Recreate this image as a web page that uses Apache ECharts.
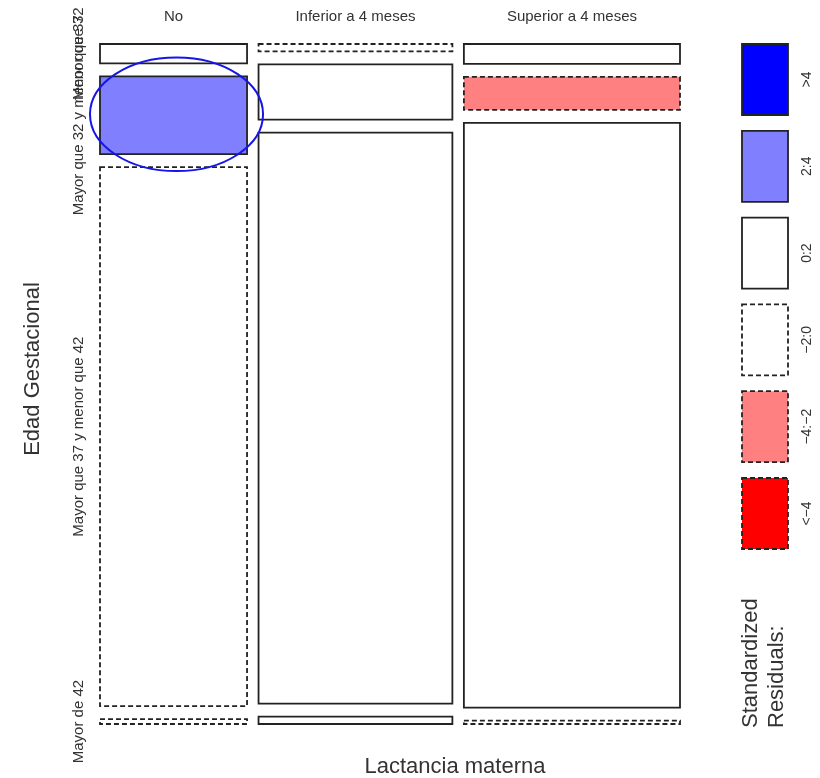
<!DOCTYPE html>
<html>
<head>
<meta charset="utf-8">
<script src="https://cdn.jsdelivr.net/npm/echarts@6/dist/echarts.min.js"></script>
<style>
html,body{margin:0;padding:0;background:#fff;}
#chart{width:820px;height:778px;}
</style>
</head>
<body>
<div id="chart"></div>
<script>
// ---- Data ----
const columnLabels = ['No', 'Inferior a 4 meses', 'Superior a 4 meses'];
const rowLabels = ['Menor que 32', 'Mayor que 32 y menor que 37', 'Mayor que 37 y menor que 42', 'Mayor de 42'];
const countsNo = [4, 16, 111, 1];
const countsInferior = [2, 15, 155, 2];
const countsSuperior = [6, 10, 177, 1];
const residualsNo = [1.2, 2.9, -1.1, -0.5];
const residualsInferior = [-0.6, 0.8, 0.4, 0.9];
const residualsSuperior = [0.5, -2.3, 0.6, -0.3];
const legendLabels = ['>4', '2:4', '0:2', '\u22122:0', '\u22124:\u22122', '<\u22124'];
const legendColors = ['#0000FF', '#8080FF', '#FFFFFF', '#FFFFFF', '#FF8080', '#FF0000'];
const legendDashed = [false, false, false, true, true, true];
const highlightCell = [0, 1];
const xTitle = 'Lactancia materna';
const yTitle = 'Edad Gestacional';
const legendTitle = ['Standardized', 'Residuals:'];

// ---- Layout helpers ----
const FONT = "'Liberation Sans', Arial, Helvetica, sans-serif";
const TXT = '#333';
const gridLeft = 100, gridTop = 44, gridW = 580, gridH = 680;
const gapX = 11.5 / gridW, gapY = 13 / gridH;

const counts = [countsNo, countsInferior, countsSuperior];
const residuals = [residualsNo, residualsInferior, residualsSuperior];
const colTotals = counts.map(c => c.reduce((a, b) => a + b, 0));
const N = colTotals.reduce((a, b) => a + b, 0);
const contentX = 1 - gapX * (counts.length - 1);
const contentY = 1 - gapY * (rowLabels.length - 1);

function shade(r) {
  if (r > 4) return { fill: '#0000FF', dash: false };
  if (r > 2) return { fill: '#8080FF', dash: false };
  if (r >= 0) return { fill: '#FFFFFF', dash: false };
  if (r > -2) return { fill: '#FFFFFF', dash: true };
  if (r > -4) return { fill: '#FF8080', dash: true };
  return { fill: '#FF0000', dash: true };
}

const cells = [];
let xCursor = 0;
counts.forEach((col, j) => {
  const w = colTotals[j] / N * contentX;
  let yCursor = 0;
  col.forEach((v, i) => {
    const h = v / colTotals[j] * contentY;
    cells.push([xCursor, xCursor + w, yCursor, yCursor + h, residuals[j][i], j, i]);
    yCursor += h + gapY;
  });
  xCursor += w + gapX;
});

function renderItem(params, api) {
  const x0 = api.value(0), x1 = api.value(1), y0 = api.value(2), y1 = api.value(3);
  const r = api.value(4), j = api.value(5), i = api.value(6);
  const p0 = api.coord([x0, y0]);
  const p1 = api.coord([x1, y1]);
  const s = shade(r);
  const rx = Math.min(p0[0], p1[0]), ry = Math.min(p0[1], p1[1]);
  const rw = Math.abs(p1[0] - p0[0]), rh = Math.abs(p1[1] - p0[1]);
  const children = [{
    type: 'rect',
    shape: { x: rx, y: ry, width: rw, height: rh },
    style: { fill: s.fill, stroke: '#222', lineWidth: 1.8, lineDash: s.dash ? [5, 3] : null }
  }];
  if (i === 0) {
    children.push({
      type: 'text', x: rx + rw / 2, y: 17,
      style: { text: columnLabels[j], fill: TXT, font: '15px ' + FONT, align: 'center', verticalAlign: 'middle' }
    });
  }
  if (j === 0) {
    children.push({
      type: 'text', x: 79, y: ry + rh / 2, rotation: Math.PI / 2,
      style: { text: rowLabels[i], fill: TXT, font: '15px ' + FONT, align: 'center', verticalAlign: 'middle' }
    });
  }
  if (j === highlightCell[0] && i === highlightCell[1]) {
    children.push({
      type: 'ellipse',
      shape: { cx: rx + rw / 2 + 3, cy: ry + rh / 2 - 1, rx: rw / 2 + 13, ry: rh / 2 + 18 },
      style: { fill: null, stroke: '#1515E8', lineWidth: 2 },
      z2: 10
    });
  }
  return { type: 'group', children: children };
}

// ---- Legend graphics ----
const legendGraphics = [];
const lgX = 742, lgW = 46, lgTop = 44, lgH = 71, lgPitch = 86.8;
legendLabels.forEach((lab, k) => {
  const y = lgTop + k * lgPitch;
  legendGraphics.push({
    type: 'rect', shape: { x: lgX, y: y, width: lgW, height: lgH },
    style: { fill: legendColors[k], stroke: '#222', lineWidth: 1.8, lineDash: legendDashed[k] ? [5, 3] : null }
  });
  legendGraphics.push({
    type: 'text', x: 807, y: y + lgH / 2, rotation: Math.PI / 2,
    style: { text: lab, fill: TXT, font: '14px ' + FONT, align: 'center', verticalAlign: 'middle' }
  });
});
legendTitle.forEach((t, k) => {
  legendGraphics.push({
    type: 'text', x: 751 + k * 26, y: 728, rotation: Math.PI / 2,
    style: { text: t, fill: TXT, font: '22px ' + FONT, align: 'left', verticalAlign: 'middle' }
  });
});
legendGraphics.push({
  type: 'text', x: 33, y: 369, rotation: Math.PI / 2,
  style: { text: yTitle, fill: TXT, font: '22px ' + FONT, align: 'center', verticalAlign: 'middle' }
});
legendGraphics.push({
  type: 'text', x: 455, y: 767,
  style: { text: xTitle, fill: TXT, font: '22px ' + FONT, align: 'center', verticalAlign: 'middle' }
});

const chart = echarts.init(document.getElementById('chart'), null, { renderer: 'canvas' });
chart.setOption({
  animation: false,
  backgroundColor: '#fff',
  grid: { left: gridLeft, top: gridTop, width: gridW, height: gridH },
  xAxis: { type: 'value', min: 0, max: 1, show: false },
  yAxis: { type: 'value', min: 0, max: 1, inverse: true, show: false },
  series: [{
    type: 'custom',
    renderItem: renderItem,
    data: cells,
    clip: false,
    encode: { x: [0, 1], y: [2, 3] }
  }],
  graphic: legendGraphics
});
</script>
</body>
</html>
